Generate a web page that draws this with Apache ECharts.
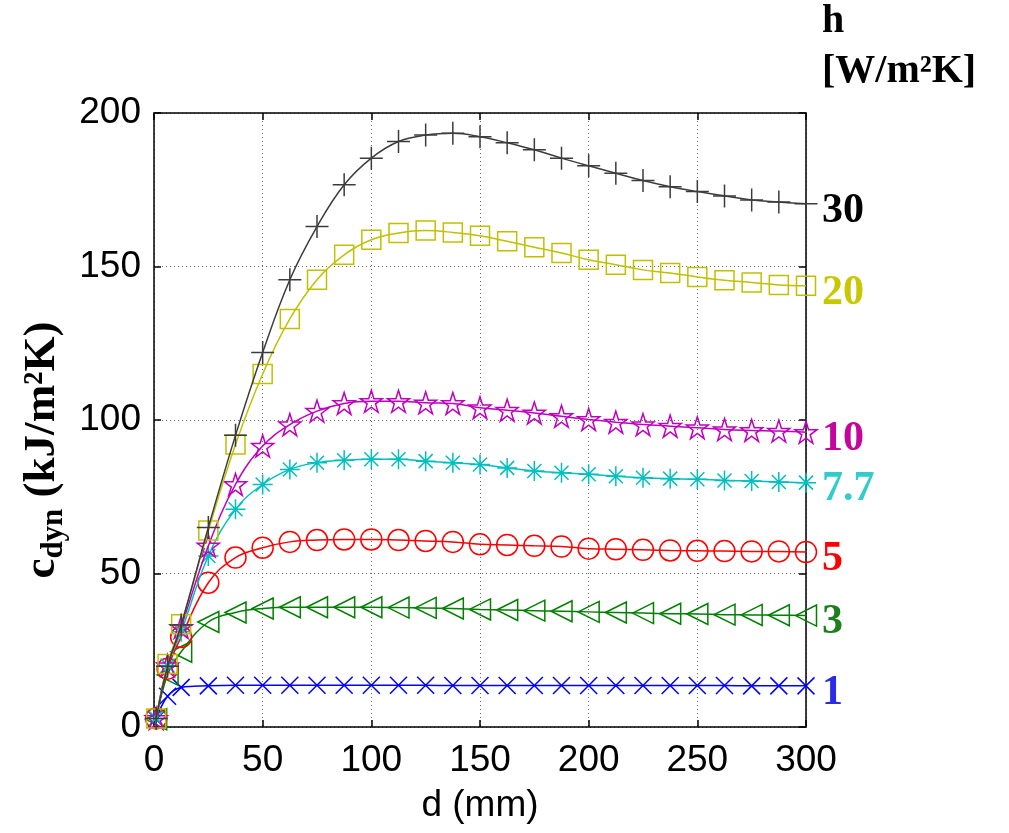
<!DOCTYPE html>
<html>
<head>
<meta charset="utf-8">
<script src="https://cdn.jsdelivr.net/npm/echarts@6/dist/echarts.min.js"></script>
<style>
  html, body { margin: 0; padding: 0; background: #fff; }
  #chart { width: 1009px; height: 833px; }
</style>
</head>
<body>
<div id="chart"></div>
<script>
// ---- data ----
var dValues = [1, 6.25, 12.5, 25, 37.5, 50, 62.5, 75, 87.5, 100, 112.5, 125, 137.5, 150, 162.5, 175, 187.5, 200, 212.5, 225, 237.5, 250, 262.5, 275, 287.5, 300];
var h1  = [2.5, 10, 12.9, 13.4, 13.6, 13.6, 13.6, 13.6, 13.6, 13.6, 13.6, 13.6, 13.5, 13.5, 13.5, 13.5, 13.5, 13.5, 13.5, 13.5, 13.5, 13.5, 13.5, 13.4, 13.4, 13.4];
var h3  = [2.5, 17, 24.5, 34.2, 37.3, 38.6, 39, 39, 39, 39, 38.9, 38.8, 38.6, 38.3, 38.1, 37.9, 37.7, 37.5, 37.3, 37.1, 36.9, 36.8, 36.6, 36.5, 36.4, 36.3];
var h5  = [2.8, 19, 29.3, 47, 55.2, 58.4, 60.3, 60.9, 61.1, 61.1, 60.9, 60.6, 60.3, 59.5, 59.3, 59, 58.8, 58.1, 57.9, 57.7, 57.5, 57.4, 57.3, 57.2, 57.2, 57];
var h77 = [2.8, 20, 31, 55.7, 70.9, 79, 83.9, 86.1, 86.9, 87.2, 87.2, 86.6, 86.1, 85.5, 84.4, 83.4, 82.8, 82.3, 81.7, 81.2, 80.9, 80.7, 80.3, 80.1, 79.8, 79.6];
var h10 = [2.8, 20, 32.5, 59, 79, 91.5, 98.5, 102.9, 105.4, 106.1, 106.1, 105.6, 105.4, 104, 103.2, 102.3, 101.2, 100.2, 99.3, 98.5, 98, 97.5, 96.9, 96.6, 96.4, 96];
var h20 = [2.8, 20.5, 33.5, 64, 92, 115, 132.9, 145.7, 153.8, 158.7, 160.9, 161.7, 161.1, 160, 158.2, 156.3, 154.4, 152.2, 150.6, 148.9, 147.9, 146.6, 145.5, 144.8, 144, 143.7];
var h30 = [2.8, 19.8, 33.2, 65, 95, 122, 145.7, 163, 176.6, 185.3, 190.7, 192.8, 193.4, 192.3, 190.3, 188, 185.3, 182.8, 180.4, 178, 176, 174.4, 173, 171.7, 171, 170.4];
var seriesLabels = ['1', '3', '5', '7.7', '10', '20', '30'];
var xTicks = [0, 50, 100, 150, 200, 250, 300];
var yTicks = [0, 50, 100, 150, 200];

// ---- styles ----
var SERIF = '"Liberation Serif", "DejaVu Serif", serif';
var SANS = '"Liberation Sans", Arial, sans-serif';
var symPlus = 'path://M5,0L5,10M0,5L10,5';
var symX = 'path://M0,0L10,10M10,0L0,10';
var symAst = 'path://M5,0L5,10M0,5L10,5M1.5,1.5L8.5,8.5M8.5,1.5L1.5,8.5';
var symStar = 'path://M50,0L61.23,34.55L97.55,34.55L68.16,55.9L79.39,90.45L50,69.1L20.61,90.45L31.84,55.9L2.45,34.55L38.77,34.55Z';
var symTri = 'path://M0,5L10,0L10,10Z';

var defs = [
  {data: h1,  lineColor: '#0000ff', labelColor: '#2a2ae8', symbol: symX, size: 17},
  {data: h3,  lineColor: '#008000', labelColor: '#1c7f1c', symbol: symTri, size: 21},
  {data: h5,  lineColor: '#ff0000', labelColor: '#ff0000', symbol: 'circle', size: 21},
  {data: h77, lineColor: '#00bfbf', labelColor: '#33cccc', symbol: symAst, size: 20},
  {data: h10, lineColor: '#bf00bf', labelColor: '#c4069c', symbol: symStar, size: 22},
  {data: h20, lineColor: '#c0c000', labelColor: '#c8c800', symbol: 'rect', size: 19},
  {data: h30, lineColor: '#3c3c3c', labelColor: '#000000', symbol: symPlus, size: 23}
];

var series = defs.map(function (s, i) {
  return {
    type: 'line',
    name: seriesLabels[i],
    data: dValues.map(function (d, j) { return [d, s.data[j]]; }),
    smooth: 0.4,
    symbol: s.symbol,
    symbolSize: s.size,
    showAllSymbol: true,
    lineStyle: {color: s.lineColor, width: 1.5},
    itemStyle: {color: 'rgba(0,0,0,0)', borderColor: s.lineColor, borderWidth: 1.5},
    emphasis: {disabled: true},
    endLabel: {
      show: true,
      formatter: seriesLabels[i],
      color: s.labelColor,
      fontFamily: SERIF,
      fontWeight: 'bold',
      fontSize: 42,
      distance: 16,
      offset: [0, 7]
    },
    z: 2 + i
  };
});

var chart = echarts.init(document.getElementById('chart'), null, {renderer: 'canvas'});
chart.setOption({
  animation: false,
  backgroundColor: '#fff',
  grid: {left: 154, right: 203, top: 113, bottom: 106, show: false},
  xAxis: [{
    type: 'value', min: 0, max: 300, interval: 50,
    name: 'd (mm)', nameLocation: 'middle', nameGap: 60,
    nameTextStyle: {fontFamily: SANS, fontSize: 37, color: '#000'},
    axisLine: {show: true, onZero: false, lineStyle: {color: '#000', width: 1.5}},
    axisTick: {show: true, inside: true, length: 7, lineStyle: {color: '#000', width: 1.5}},
    axisLabel: {fontFamily: SANS, fontSize: 37, color: '#000', margin: 15,
      formatter: function (v) { return xTicks.indexOf(v) >= 0 ? String(v) : ''; }},
    splitLine: {show: true, lineStyle: {color: '#666', type: [1, 3], width: 1}}
  }, {
    type: 'value', min: 0, max: 300, interval: 50, position: 'top',
    axisLine: {show: true, onZero: false, lineStyle: {color: '#000', width: 1.5}},
    axisTick: {show: true, inside: true, length: 7, lineStyle: {color: '#000', width: 1.5}},
    axisLabel: {show: false}, splitLine: {show: false}
  }],
  yAxis: [{
    type: 'value', min: 0, max: 200, interval: 50,
    axisLine: {show: true, onZero: false, lineStyle: {color: '#000', width: 1.5}},
    axisTick: {show: true, inside: true, length: 7, lineStyle: {color: '#000', width: 1.5}},
    axisLabel: {fontFamily: SANS, fontSize: 37, color: '#000', margin: 13,
      formatter: function (v) { return yTicks.indexOf(v) >= 0 ? String(v) : ''; }},
    splitLine: {show: true, lineStyle: {color: '#666', type: [1, 3], width: 1}}
  }, {
    type: 'value', min: 0, max: 200, interval: 50, position: 'right',
    axisLine: {show: true, onZero: false, lineStyle: {color: '#000', width: 1.5}},
    axisTick: {show: true, inside: true, length: 7, lineStyle: {color: '#000', width: 1.5}},
    axisLabel: {show: false}, splitLine: {show: false}
  }],
  graphic: [
    {type: 'text', left: 822, top: 2, style: {text: 'h', fontFamily: SERIF, fontWeight: 'bold', fontSize: 40, fill: '#000'}},
    {type: 'text', left: 822, top: 52, style: {text: '[W/m²K]', fontFamily: SERIF, fontWeight: 'bold', fontSize: 40, fill: '#000'}},
    {type: 'text', x: 42, y: 450, rotation: Math.PI / 2,
      style: {
        text: '{a|c}{s|dyn}{a| (kJ/m²K)}',
        align: 'center', verticalAlign: 'middle',
        rich: {
          a: {fontFamily: SERIF, fontWeight: 'bold', fontSize: 45, fill: '#000', lineHeight: 54, verticalAlign: 'middle'},
          s: {fontFamily: SERIF, fontWeight: 'bold', fontSize: 31, fill: '#000', lineHeight: 54, verticalAlign: 'bottom'}
        }
      }
    }
  ],
  series: series
});
</script>
</body>
</html>
